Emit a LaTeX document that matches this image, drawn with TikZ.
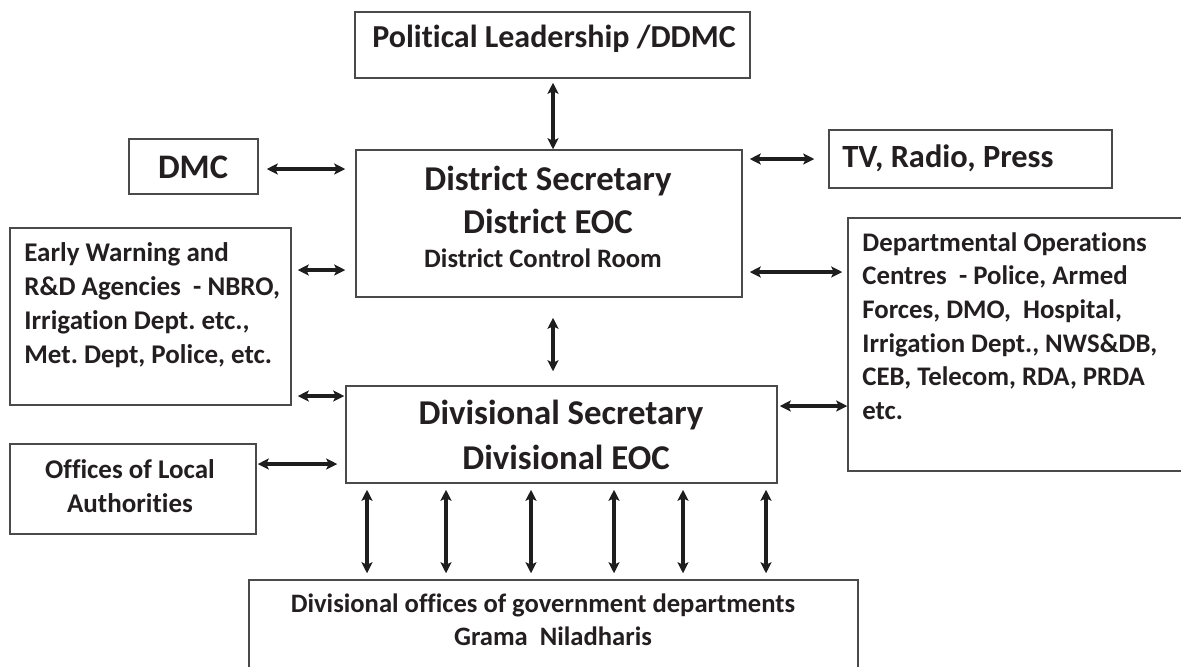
\documentclass[tikz,border=0pt]{standalone}
\usepackage{fontspec}
\setmainfont{Carlito}[Ligatures={NoCommon}]
\usetikzlibrary{arrows.meta,fit}
\definecolor{boxgray}{HTML}{4A4A4A}
\definecolor{arrgray}{HTML}{1E1E1E}
\definecolor{txt}{HTML}{231F20}
\frenchspacing
\begin{document}
\begin{tikzpicture}[x=0.5pt,y=-0.5pt,
  box/.style={draw=boxgray, line width=0.75pt, rectangle, inner sep=0pt},
  arr/.style={draw=arrgray, line width=1.6pt, {Stealth[length=5.5pt,width=5.5pt,inset=1.2pt]}-{Stealth[length=5.5pt,width=5.5pt,inset=1.2pt]}},
  lbl/.style={text=txt, inner sep=0pt, font=\bfseries},
  big/.style={lbl, font=\fontsize{17.4}{20}\selectfont\bfseries},
  med/.style={lbl, font=\fontsize{13.5}{17}\selectfont\bfseries},
  sml/.style={lbl, font=\fontsize{13.3}{16.5}\selectfont\bfseries},
]
\clip (0,0) rectangle (1181,666);
\fill[white] (0,0) rectangle (1181,666);
% boxes
\node[box, fit={(355,12) (750,78)}] (pol) {};
\node[box, fit={(129,139) (258,194)}] (dmc) {};
\node[box, fit={(356,150) (742,297)}] (dist) {};
\node[box, fit={(829,130) (1112,188)}] (tv) {};
\node[box, fit={(10,228) (291,405)}] (early) {};
\node[box, fit={(848,218) (1200,471)}] (dept) {};
\node[box, fit={(346,386) (777,483)}] (div) {};
\node[box, fit={(10,444) (256,534)}] (off) {};
\node[box, fit={(249,580) (858,700)}] (bot) {};
% texts
\node[lbl, font=\fontsize{16}{20}\selectfont\bfseries] (poltxt) at (554,39) {Political Leadership /DDMC};
\node[lbl, font=\fontsize{17.2}{20}\selectfont\bfseries] (dmctxt) at (193,167) {DMC};
\node[big] (dist1) at (548,181) {District Secretary};
\node[big] (dist2) at (548,221) {District EOC};
\node[lbl, font=\fontsize{13.3}{17}\selectfont\bfseries] (dist3) at (543,258) {District Control Room};
\node[lbl, font=\fontsize{16.2}{18}\selectfont\bfseries, anchor=west] (tvtxt) at (842,158) {TV, Radio, Press};
\node[med, anchor=north west, align=left] (earlytxt) at (24,242)
  {Early Warning and\\R\&D Agencies\ \ - NBRO,\\Irrigation Dept. etc.,\\Met. Dept, Police, etc.};
\node[lbl, font=\fontsize{13.4}{16.8}\selectfont\bfseries, anchor=north west, align=left] (depttxt) at (862,232)
  {Departmental Operations\\Centres\ \ - Police, Armed\\Forces, DMO,\ \ Hospital,\\Irrigation Dept., NWS\&DB,\\CEB, Telecom, RDA, PRDA\\etc.};
\node[big] (div1) at (561,415) {Divisional Secretary};
\node[big] (div2) at (566,457) {Divisional EOC};
\node[med, anchor=north, align=center] (offtxt) at (130,459) {Offices of Local\\Authorities};
\node[sml, anchor=base] (bot1) at (543,612) {Divisional offices of government departments};
\node[sml, anchor=base] (bot2) at (553,645) {Grama\ \ Niladharis};
% connectors
\draw[arr, shorten <=2pt, shorten >=0pt] (pol.south -| 553,0) -- (dist.north -| 553,0);
\draw[arr, shorten <=4pt, shorten >=5pt] (dmc.east |- 0,169) -- (dist.west |- 0,169);
\draw[arr, shorten <=3.5pt, shorten >=7pt] (dist.east |- 0,159) -- (tv.west |- 0,159);
\draw[arr, shorten <=3pt, shorten >=5pt] (early.east |- 0,270) -- (dist.west |- 0,270);
\draw[arr, shorten <=3.5pt, shorten >=2.5pt] (dist.east |- 0,272) -- (dept.west |- 0,272);
\draw[arr, shorten <=10pt, shorten >=7pt] (dist.south -| 553,0) -- (div.north -| 553,0);
\draw[arr, shorten <=3pt, shorten >=0.5pt] (early.east |- 0,396) -- (div.west |- 0,396);
\draw[arr, shorten <=1pt, shorten >=0pt] (div.east |- 0,406) -- (dept.west |- 0,406);
\draw[arr, shorten <=0.5pt, shorten >=4pt] (off.east |- 0,464) -- (div.west |- 0,464);
\foreach \xx in {367,446,531,614,683,766}
  \draw[arr, shorten <=3pt, shorten >=3pt] (div.south -| \xx,0) -- (bot.north -| \xx,0);
\end{tikzpicture}
\end{document}
